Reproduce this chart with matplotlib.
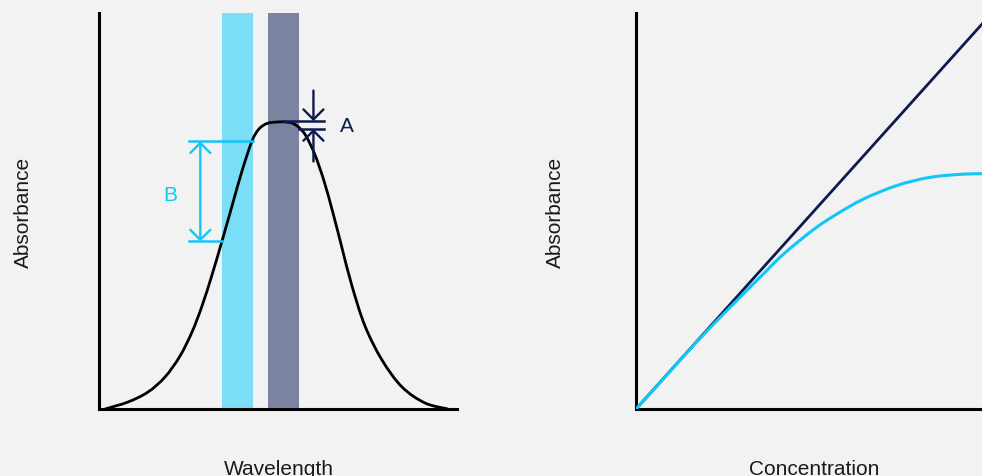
import matplotlib
matplotlib.use("Agg")
import matplotlib.pyplot as plt
from matplotlib.path import Path
from matplotlib.patches import PathPatch

plt.rcParams['font.family'] = ['Liberation Sans', 'DejaVu Sans']

# spectrum (wavelength / absorbance, arbitrary 0-100 units)
wavelength = [1.68, 8.10, 13.69, 18.44, 22.63, 25.98, 28.77, 31.56, 34.36, 37.15, 39.94,
              42.74, 44.69, 46.93, 49.72, 51.96, 53.91, 55.87, 57.82, 60.34, 62.85, 65.36,
              67.88, 70.67, 74.30, 79.05, 84.64, 91.06, 97.49]
spectrum = [0.0, 1.77, 4.29, 8.08, 13.38, 19.44, 26.01, 33.84, 42.42, 51.26, 60.10,
            67.68, 70.71, 72.10, 72.47, 72.47, 72.22, 71.09, 68.94, 64.14, 57.58, 49.49,
            40.66, 31.06, 20.96, 12.37, 5.56, 1.52, 0.0]

# band pass windows
light_band = (34.4, 43.0)
dark_band = (47.2, 55.9)

# B: absorbance spread over the light band, A: spread over the dark band
b_x = 28.3
b_top, b_bottom = 67.6, 42.3
a_x = 59.9
a_top, a_bottom = 72.7, 70.7

# Beer-Lambert plot
conc_ideal = [0, 100]
abs_ideal = [0, 97.2]
conc_real = [0, 7.9, 17.5, 27.2, 36.8, 41.6, 46.4, 52.2, 58.0, 65.7, 75.3, 85.0, 94.6, 100]
abs_real = [0, 7.6, 16.9, 25.7, 34.1, 38.3, 41.9, 45.9, 49.2, 53.0, 56.4, 58.5, 59.3, 59.4]

BG = '#f2f2f2'
CYAN = '#12c6f8'
NAVY = '#0c1a50'
LIGHT = '#7bdef6'
DARK = '#7a84a1'
TXT = '#1a1a1a'

W, H = 982, 477
fig = plt.figure(figsize=(W / 100, H / 100), dpi=100, facecolor=BG)


def px_axes(x0, y0, x1, y1):
    ax = fig.add_axes([x0 / W, 1 - y1 / H, (x1 - x0) / W, (y1 - y0) / H])
    ax.set_facecolor(BG)
    ax.set_xlim(0, 100)
    ax.set_ylim(0, 100)
    for s in ['top', 'right']:
        ax.spines[s].set_visible(False)
    for s in ['left', 'bottom']:
        ax.spines[s].set_linewidth(2.2)
        ax.spines[s].set_color('black')
    ax.set_xticks([])
    ax.set_yticks([])
    return ax


def smooth_line(ax, xs, ys, **kw):
    # catmull-rom through the read points, drawn as bezier path
    pts = list(zip(xs, ys))
    pts = [pts[0]] + pts + [pts[-1]]
    verts = [pts[1]]
    codes = [Path.MOVETO]
    for i in range(1, len(pts) - 2):
        p0, p1, p2, p3 = pts[i - 1], pts[i], pts[i + 1], pts[i + 2]
        c1 = (p1[0] + (p2[0] - p0[0]) / 6, p1[1] + (p2[1] - p0[1]) / 6)
        c2 = (p2[0] - (p3[0] - p1[0]) / 6, p2[1] - (p3[1] - p1[1]) / 6)
        verts += [c1, c2, p2]
        codes += [Path.CURVE4] * 3
    ax.add_patch(PathPatch(Path(verts, codes), fill=False, **kw))


def arrow(ax, tail, tip, color, style='->'):
    ax.annotate('', xy=tip, xytext=tail,
                arrowprops=dict(arrowstyle=style + ',head_length=0.72,head_width=0.72',
                                lw=1.7, color=color, shrinkA=0, shrinkB=0))


# left panel
ax1 = px_axes(99, 14, 457, 410)
ax1.axvspan(*light_band, color=LIGHT, lw=0, zorder=1)
ax1.axvspan(*dark_band, color=DARK, lw=0, zorder=1)
smooth_line(ax1, wavelength, spectrum, edgecolor='black', lw=2.0, zorder=3)

ax1.plot([25.1, light_band[1]], [b_top, b_top], color=CYAN, lw=1.8, zorder=4)
ax1.plot([25.1, light_band[0]], [b_bottom, b_bottom], color=CYAN, lw=1.8, zorder=4)
arrow(ax1, (b_x, b_top), (b_x, b_bottom), CYAN, '<->')
ax1.text(19.9, 54.1, 'B', color=CYAN, fontsize=15, ha='center', va='center')

ax1.plot([51.4, 62.9], [a_top, a_top], color=NAVY, lw=1.8, zorder=4)
ax1.plot([dark_band[1], 62.9], [a_bottom, a_bottom], color=NAVY, lw=1.8, zorder=4)
arrow(ax1, (a_x, 80.4), (a_x, a_top), NAVY)
arrow(ax1, (a_x, 62.5), (a_x, a_bottom), NAVY)
ax1.text(69.2, 71.5, 'A', color=NAVY, fontsize=15, ha='center', va='center')

# right panel
ax2 = px_axes(636, 14, 982, 410)
ax2.plot(conc_ideal, abs_ideal, color=NAVY, lw=2.0, zorder=3)
smooth_line(ax2, conc_real, abs_real, edgecolor=CYAN, lw=2.2, zorder=4)

fig.text(279 / W, 1 - 475 / H, 'Wavelength', fontsize=15, color=TXT, ha='center', va='baseline')
fig.text(814 / W, 1 - 475 / H, 'Concentration', fontsize=15, color=TXT, ha='center', va='baseline')
fig.text(23 / W, 1 - 212 / H, 'Absorbance', fontsize=15, color=TXT, ha='center', va='center', rotation=90)
fig.text(555 / W, 1 - 212 / H, 'Absorbance', fontsize=15, color=TXT, ha='center', va='center', rotation=90)

fig.savefig('out.png', dpi=100, facecolor=BG)
